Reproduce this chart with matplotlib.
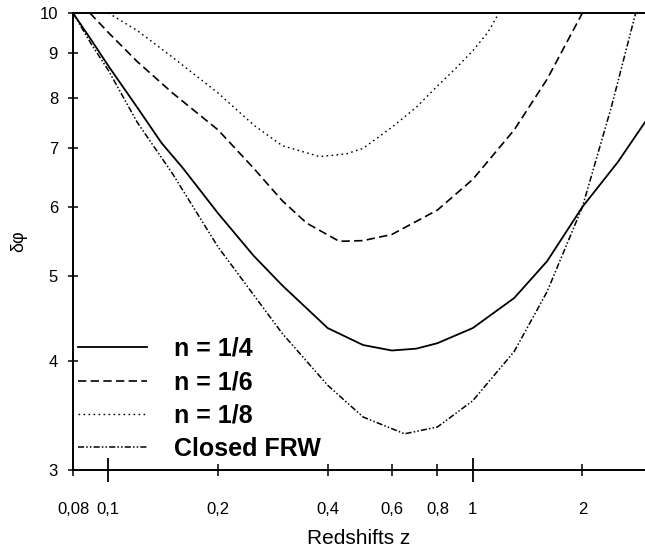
import numpy as np
import matplotlib
matplotlib.use('Agg')
import matplotlib.pyplot as plt
from matplotlib.ticker import FixedLocator, FixedFormatter, NullLocator

plt.rcParams['font.family'] = ['Liberation Sans', 'DejaVu Sans']

# curves (redshift z, delta phi)
z_n4 = [0.08, 0.09, 0.1, 0.12, 0.14, 0.16, 0.2, 0.25, 0.3, 0.4, 0.5, 0.6, 0.7, 0.8, 1.0, 1.3, 1.6, 2.0, 2.5, 2.97]
phi_n4 = [10.0, 9.3, 8.7, 7.8, 7.1, 6.65, 5.9, 5.28, 4.88, 4.36, 4.17, 4.11, 4.13, 4.19, 4.36, 4.72, 5.2, 6.0, 6.75, 7.5]

z_n6 = [0.089, 0.1, 0.12, 0.15, 0.2, 0.25, 0.3, 0.35, 0.43, 0.5, 0.6, 0.8, 1.0, 1.3, 1.6, 2.0]
phi_n6 = [10.0, 9.5, 8.8, 8.1, 7.35, 6.65, 6.1, 5.75, 5.48, 5.49, 5.58, 5.95, 6.45, 7.35, 8.4, 10.0]

z_n8 = [0.1, 0.12, 0.15, 0.2, 0.25, 0.3, 0.38, 0.45, 0.5, 0.6, 0.7, 0.8, 0.9, 1.0, 1.1, 1.18]
phi_n8 = [10.0, 9.55, 8.9, 8.1, 7.45, 7.05, 6.85, 6.9, 7.0, 7.4, 7.8, 8.25, 8.65, 9.05, 9.5, 10.0]

z_frw = [0.08, 0.09, 0.1, 0.12, 0.15, 0.2, 0.3, 0.4, 0.5, 0.65, 0.8, 1.0, 1.3, 1.6, 2.0, 2.4, 2.8]
phi_frw = [10.0, 9.2, 8.6, 7.5, 6.55, 5.4, 4.3, 3.75, 3.45, 3.3, 3.36, 3.6, 4.1, 4.8, 6.0, 7.8, 10.0]

labels = ['n = 1/4', 'n = 1/6', 'n = 1/8', 'Closed FRW']

x_major = [0.1, 1]
x_major_lab = ['0,1', '1']
x_minor = [0.08, 0.2, 0.4, 0.6, 0.8, 2]
x_minor_lab = ['0,08', '0,2', '0,4', '0,6', '0,8', '2']
y_ticks = [3, 4, 5, 6, 7, 8, 9, 10]

fig = plt.figure(figsize=(6.45, 5.57), dpi=100)
ax = fig.add_axes([73 / 645, 1 - 470 / 557, 1 - 73 / 645, (470 - 13) / 557])

ax.plot(z_n4, phi_n4, color='black', lw=1.3, label=labels[0])
ax.plot(z_n6, phi_n6, color='black', lw=1.2, linestyle=(0, (5.0, 2.6)), label=labels[1])
ax.plot(z_n8, phi_n8, color='black', lw=1.0, linestyle=(0, (1.2, 2.4)), label=labels[2])
ax.plot(z_frw, phi_frw, color='black', lw=1.1,
        linestyle=(0, (4.0, 1.4, 1.0, 1.4, 1.0, 1.4)), label=labels[3])

ax.set_xscale('log')
ax.set_yscale('log')
ax.set_xlim(0.08, 2.97)
ax.set_ylim(3, 10)

ax.xaxis.set_major_locator(FixedLocator(x_major))
ax.xaxis.set_major_formatter(FixedFormatter(x_major_lab))
ax.xaxis.set_minor_locator(FixedLocator(x_minor))
ax.xaxis.set_minor_formatter(FixedFormatter(x_minor_lab))
ax.yaxis.set_major_locator(FixedLocator(y_ticks))
ax.yaxis.set_major_formatter(FixedFormatter([str(v) for v in y_ticks]))
ax.yaxis.set_minor_locator(NullLocator())

ax.tick_params(axis='x', which='major', direction='inout', length=17, width=1.3,
               pad=14.5, labelsize=12)
ax.tick_params(axis='x', which='minor', direction='inout', length=8.6, width=1.1,
               pad=18.7, labelsize=12)
ax.tick_params(axis='y', which='major', direction='inout', length=7, width=1.1,
               pad=7.3, labelsize=12)

for s in ['left', 'bottom', 'top']:
    ax.spines[s].set_linewidth(1.4)
ax.spines['right'].set_visible(False)

ax.set_xlabel('Redshifts z', fontsize=15, labelpad=9)
ax.set_ylabel('δφ', fontsize=13)
ax.yaxis.set_label_coords(-0.08, 0.5)

ax.legend(loc='upper left', bbox_to_anchor=(78 / 645, 1 - 337 / 557),
          bbox_transform=fig.transFigure, frameon=False,
          prop={'weight': 'bold', 'size': 18}, handlelength=2.76,
          handletextpad=1.1, labelspacing=0.37, borderpad=0, borderaxespad=0)

plt.savefig('out.png', dpi=100)
